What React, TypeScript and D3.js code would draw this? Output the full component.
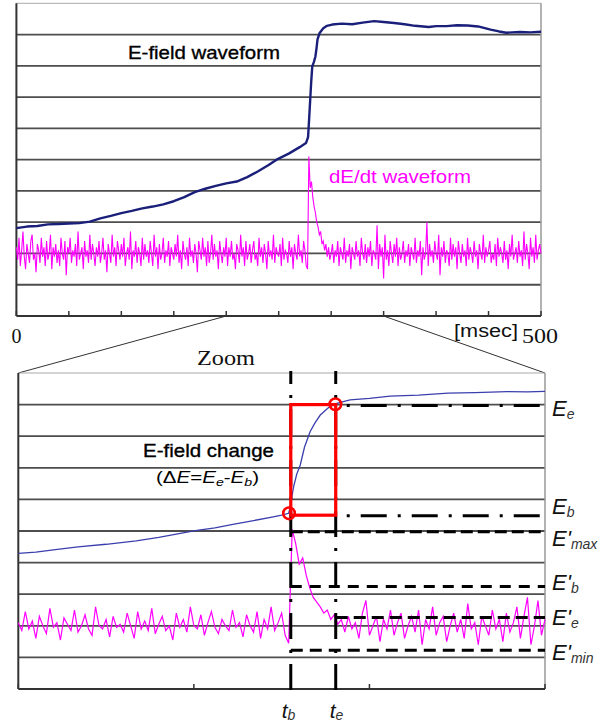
import React from "react";
import * as d3 from "d3";

// ---------- data ----------
const topTicks = [0, 50, 100, 150, 200, 250, 300, 350, 400, 450, 500];
const bottomTicks = [200, 250, 300, 350];
const gridLevels = [1, 2, 3, 4, 5, 6, 7, 8, 9];
const zoomWindow = [200, 350];

// E-field waveform (top, 0-500 ms)
const topEfieldT = [0, 10, 20, 30, 40, 50, 60, 70, 80, 90, 100, 110, 120, 130, 140, 150, 160, 170, 180, 190, 200, 210, 220, 230, 240, 248, 260, 270, 276, 278, 279, 280, 281, 282, 283.5, 285, 286, 287, 289, 292.5, 296, 301, 310, 320, 330, 341, 350, 360, 370, 380, 393, 400, 410, 420, 430, 440, 452, 460, 467, 480, 490, 500];
const topEfieldV = [2.81, 2.86, 2.88, 2.93, 2.94, 2.96, 2.97, 3.02, 3.12, 3.2, 3.29, 3.36, 3.44, 3.5, 3.57, 3.67, 3.8, 3.96, 4.07, 4.16, 4.24, 4.3, 4.44, 4.62, 4.82, 5.0, 5.2, 5.4, 5.53, 5.72, 6.3, 6.9, 7.5, 7.98, 8.12, 8.3, 8.55, 8.85, 9.05, 9.2, 9.28, 9.32, 9.35, 9.33, 9.38, 9.43, 9.4, 9.37, 9.33, 9.28, 9.24, 9.27, 9.27, 9.3, 9.29, 9.26, 9.16, 9.1, 9.06, 9.08, 9.07, 9.09];

// dE/dt waveform (top), one sample every 1.25 ms from 0 ms
const topDeDtStep = 1.25;
const topDeDt = [
  2.2, 1.8, 2.5, 1.6, 2.1, 2.7, 1.9, 1.5, 2.3, 2.0, 1.7, 2.4, 2.6, 1.8, 2.0, 1.4, 2.3, 2.1, 1.7, 2.5,
  1.9, 2.2, 1.6, 2.4, 1.8, 2.0, 2.6, 1.5, 2.2, 1.9, 2.3, 1.7, 2.1, 1.6, 2.5, 2.0, 1.8, 2.4, 1.3, 2.2,
  2.0, 2.5, 1.7, 2.1, 1.9, 2.3, 1.6, 2.7, 1.8, 2.0, 2.2, 1.5, 2.4, 1.9, 2.1, 1.7, 2.6, 1.8, 2.3, 2.0,
  1.6, 2.2, 1.9, 2.4, 1.7, 2.0, 2.5, 1.8, 2.1, 1.4, 2.3, 2.0, 1.7, 2.6, 1.9, 2.2, 1.6, 2.4, 2.1, 1.8,
  2.3, 1.9, 2.5, 1.6, 2.0, 2.2, 1.8, 2.7, 1.5, 2.1, 1.9, 2.4, 1.7, 2.2, 2.0, 1.6, 2.5, 1.8, 2.3, 1.9,
  2.1, 1.7, 2.4, 2.0, 1.6, 2.6, 1.9, 2.2, 1.5, 2.3, 1.8, 2.0, 2.5, 1.7, 2.1, 1.9, 2.4, 1.6, 2.2, 2.0,
  1.8, 2.3, 1.9, 2.6, 1.7, 2.1, 1.5, 2.4, 2.0, 1.8, 2.2, 1.6, 2.5, 1.9, 2.1, 1.7, 2.3, 2.0, 1.4, 2.4,
  2.1, 1.8, 2.5, 1.9, 2.2, 1.6, 2.4, 1.7, 2.0, 2.6, 1.8, 2.3, 1.9, 2.1, 1.5, 2.4, 2.0, 1.7, 2.2, 1.9,
  2.5, 1.6, 2.2, 1.9, 2.4, 1.8, 2.0, 1.5, 2.3, 2.1, 1.7, 2.6, 1.9, 2.2, 1.6, 2.4, 1.8, 2.0, 2.3, 1.7,
  2.1, 2.4, 1.8, 2.0, 1.6, 2.5, 1.9, 2.2, 1.7, 2.3, 2.0, 1.5, 2.4, 1.9, 2.1, 1.8, 2.6, 1.7, 2.2, 2.0,
  1.9, 2.3, 1.6, 2.5, 1.8, 2.1, 2.0, 1.7, 2.4, 1.9, 2.2, 1.5, 2.3, 2.0, 1.8, 2.6, 1.9, 2.1, 1.7, 2.4,
  2.1, 1.6, 1.5, 5.1, 4.1, 4.3, 3.8, 3.5, 3.3, 3.0, 2.85, 2.6, 2.7, 2.3, 2.4, 2.1, 2.3, 1.9, 2.2, 1.8,
  2.0, 2.3, 1.7, 2.1, 1.9, 2.4, 1.6, 2.2, 2.0, 1.8, 2.5, 1.7, 2.1, 1.9, 2.3, 1.5, 2.2, 2.0, 1.8, 2.4,
  1.9, 2.1, 1.6, 2.5, 2.0, 1.8, 2.3, 1.7, 2.2, 1.9, 2.4, 1.6, 2.1, 2.0, 1.8, 2.9, 1.5, 2.3, 1.9, 2.2,
  1.2, 2.6, 1.8, 2.1, 1.6, 2.4, 2.0, 1.7, 2.3, 1.9, 2.5, 1.6, 2.2, 1.8, 2.0, 2.4, 1.7, 2.1, 1.9, 2.3,
  1.6, 2.2, 2.0, 1.8, 2.5, 1.7, 2.1, 1.9, 2.4, 1.3, 2.2, 1.8, 2.0, 3.0, 1.6, 2.3, 1.9, 2.1, 1.7, 2.4,
  2.0, 1.8, 2.6, 1.3, 2.2, 1.9, 2.4, 1.7, 2.1, 2.0, 1.6, 2.5, 1.8, 2.3, 1.9, 2.2, 1.5, 2.4, 2.0, 1.7,
  2.3, 1.9, 2.1, 1.6, 2.5, 1.8, 2.2, 2.0, 1.7, 2.4, 1.9, 2.1, 1.5, 2.3, 2.0, 1.8, 2.6, 1.7, 2.2, 1.9,
  2.1, 2.4, 1.7, 2.0, 1.8, 2.3, 1.6, 2.5, 1.9, 2.2, 2.0, 1.7, 2.4, 1.8, 2.1, 1.5, 2.3, 1.9, 2.6, 1.8,
  2.0, 2.2, 1.7, 2.4, 1.9, 2.1, 1.6, 2.7, 1.8, 2.3, 2.0, 1.5, 2.5, 1.9, 2.2, 1.7, 2.6, 1.8, 2.1, 2.3,
  2.0,
];

// E-field waveform (zoom, 200-350 ms)
const zoomEfieldT = [200, 205, 210, 217, 225, 233.6, 240, 245, 250.4, 256, 261.5, 267, 272.6, 275, 277, 277.5, 278.4, 279.3, 280.3, 281.5, 283.1, 284.5, 286, 288.3, 290.2, 292, 294.5, 300, 305.9, 314, 322.4, 330, 339.2, 345, 350];
const zoomEfieldV = [4.29, 4.33, 4.4, 4.5, 4.58, 4.69, 4.8, 4.9, 5.01, 5.1, 5.22, 5.33, 5.45, 5.5, 5.56, 5.8, 6.4, 6.8, 7.09, 7.65, 8.14, 8.42, 8.67, 8.9, 9.02, 9.08, 9.15, 9.2, 9.27, 9.3, 9.36, 9.38, 9.41, 9.4, 9.42];

// dE/dt waveform (zoom), one sample every 1 ms from 200 ms
const zoomDeDtStart = 200;
const zoomDeDtStep = 1;
const zoomDeDt = [
  2.1, 1.85, 2.45, 1.9, 2.15, 1.6, 2.3, 2.0, 1.75, 2.55, 1.95, 2.1, 1.55, 2.25, 2.05, 1.85, 2.5, 1.8, 2.0, 2.35,
  1.9, 1.7, 2.6, 2.0, 1.9, 2.2, 1.65, 2.3, 1.95, 2.05, 1.8, 2.4, 2.0, 1.6, 2.45, 1.9, 2.15, 1.85, 2.55, 1.75,
  2.05, 2.3, 1.85, 2.0, 1.55, 2.4, 1.95, 2.2, 1.8, 2.6, 2.0, 1.9, 2.35, 1.7, 2.1, 2.45, 1.95, 1.75, 2.2, 2.0,
  1.85, 2.5, 1.95, 2.1, 1.65, 2.35, 2.0, 1.8, 2.45, 1.6, 2.2, 1.9, 2.6, 1.85, 2.1, 2.4,
  1.7, 1.45, 5.05, 4.6, 3.95, 4.15, 3.6, 3.2, 2.9, 2.75, 2.6, 2.4, 2.5, 2.2, 2.35, 2.05, 2.2,
  1.8, 2.3, 1.9, 2.1, 1.6, 2.4, 2.8, 1.7, 2.0, 2.3, 1.5, 2.2, 1.9, 2.5, 1.7, 2.1, 2.4, 1.6, 2.0, 2.3,
  1.8, 2.5, 1.4, 2.2, 1.9, 2.6, 1.7, 2.1, 2.3, 1.5, 2.0, 2.4, 1.8, 2.2, 1.6, 2.7, 1.9, 2.1, 1.4, 2.3,
  2.0, 1.7, 2.5, 1.9, 2.2, 1.5, 2.4, 1.8, 2.1, 2.6, 1.6, 2.3, 2.9, 1.4, 2.0, 2.8, 1.7, 2.2,
];

// markers
const tB = 277.6;
const tE = 290.4;
const levelEe = 9.0;
const levelEb = 5.5;
const levelEpMax = 4.98;
const levelEpB = 3.24;
const levelEpE = 2.26;
const levelEpMin = 1.23;
const circlePts = [
  { t: 277.1, v: 5.56 },
  { t: 290.3, v: 9.01 },
];

const SANS = "'Liberation Sans', Arial, sans-serif";
const SERIF = "'Liberation Serif', 'Times New Roman', serif";

export default function App() {
  const W = 608;
  const H = 724;
  const xT = d3.scaleLinear().domain([0, 500]).range([16.4, 541]);
  const yT = d3.scaleLinear().domain([0, 10]).range([316, 3.3]);
  const xB = d3.scaleLinear().domain([200, 350]).range([18.3, 545]);
  const yB = d3.scaleLinear().domain([0, 10]).range([689, 373]);

  const lineT = d3
    .line<[number, number]>()
    .x((d) => xT(d[0]))
    .y((d) => yT(d[1]));
  const lineB = d3
    .line<[number, number]>()
    .x((d) => xB(d[0]))
    .y((d) => yB(d[1]));

  const topE = topEfieldT.map((t, i) => [t, topEfieldV[i]] as [number, number]);
  const topD = topDeDt.map((v, i) => [i * topDeDtStep, v] as [number, number]);
  const zoomE = zoomEfieldT.map((t, i) => [t, zoomEfieldV[i]] as [number, number]);
  const zoomD = zoomDeDt.map((v, i) => [zoomDeDtStart + i * zoomDeDtStep, v] as [number, number]);

  const gridColor = "#4d4d4d";
  const xRightB = xB(350);

  const hLine = (y: number, x1: number, dash: string, key: string) => (
    <line key={key} x1={x1} x2={xRightB} y1={y} y2={y} stroke="#000" strokeWidth={3} strokeDasharray={dash} />
  );

  const labelE = (main: string, sub: string, y: number, key: string) => (
    <text key={key} x={552} y={y} fontFamily={SANS} fontStyle="italic" fontSize={22} fill="#111">
      {main}
      <tspan fontSize={14} dy={3} fill="#333">
        {sub}
      </tspan>
    </text>
  );

  return (
    <svg
      width={W}
      height={H}
      viewBox={`0 0 ${W} ${H}`}
      style={{ position: "absolute", left: 0, top: 0, display: "block", background: "#fff" }}
    >
      <rect x={0} y={0} width={W} height={H} fill="#fff" />

      {/* ---------------- TOP PANEL ---------------- */}
      {gridLevels.map((g) => (
        <line key={"gt" + g} x1={xT(0)} x2={xT(500)} y1={yT(g)} y2={yT(g)} stroke={gridColor} strokeWidth={1.8} />
      ))}
      <line x1={xT(0)} x2={xT(500)} y1={yT(10)} y2={yT(10)} stroke="#aaa" strokeWidth={1} />
      <line x1={xT(500)} x2={xT(500)} y1={yT(10)} y2={yT(0)} stroke="#999" strokeWidth={1.5} />
      <line x1={xT(0)} x2={xT(0)} y1={yT(10)} y2={yT(0)} stroke="#333" strokeWidth={2} />
      <line x1={xT(0)} x2={xT(500)} y1={yT(0)} y2={yT(0)} stroke="#333" strokeWidth={2} />
      {topTicks.map((t) => (
        <line key={"tt" + t} x1={xT(t)} x2={xT(t)} y1={yT(0)} y2={yT(0) - 5} stroke="#333" strokeWidth={1.5} />
      ))}

      <path d={lineT(topD) || ""} fill="none" stroke="#ff00ff" strokeWidth={1.1} />
      <path d={lineT(topE) || ""} fill="none" stroke="#1a1f7a" strokeWidth={2.4} strokeLinejoin="round" />

      <text x={128} y={59} fontFamily={SANS} fontSize={18.6} fill="#000" stroke="#000" strokeWidth={0.35} textLength={152} lengthAdjust="spacingAndGlyphs">
        E-field waveform
      </text>
      <text x={329} y={183} fontFamily={SANS} fontSize={18.6} fill="#ff00ff" textLength={142} lengthAdjust="spacingAndGlyphs">
        dE/dt waveform
      </text>

      <text x={xT(0)} y={343} fontFamily={SERIF} fontSize={20} textAnchor="middle" fill="#111">
        {topTicks[0]}
      </text>
      <text x={522} y={343} fontFamily={SERIF} fontSize={21} fill="#111" textLength={36} lengthAdjust="spacingAndGlyphs">
        {topTicks[topTicks.length - 1]}
      </text>
      <text x={454} y={337} fontFamily={SANS} fontSize={18} fill="#111" textLength={64} lengthAdjust="spacingAndGlyphs">
        [msec]
      </text>

      {/* zoom connectors */}
      <line x1={xT(zoomWindow[0])} y1={yT(0)} x2={xB(zoomWindow[0])} y2={yB(10)} stroke="#333" strokeWidth={1} />
      <line x1={xT(zoomWindow[1])} y1={yT(0)} x2={xB(zoomWindow[1])} y2={yB(10)} stroke="#333" strokeWidth={1} />
      <text x={197} y={365} fontFamily={SERIF} fontSize={20} fill="#111" textLength={58} lengthAdjust="spacingAndGlyphs">
        Zoom
      </text>

      {/* ---------------- BOTTOM PANEL ---------------- */}
      {gridLevels.map((g) => (
        <line key={"gb" + g} x1={xB(200)} x2={xB(350)} y1={yB(g)} y2={yB(g)} stroke={gridColor} strokeWidth={1.8} />
      ))}
      <line x1={xB(200)} x2={xB(350)} y1={yB(10)} y2={yB(10)} stroke="#aaa" strokeWidth={1.2} />
      <line x1={xB(350)} x2={xB(350)} y1={yB(10)} y2={yB(0)} stroke="#999" strokeWidth={1.5} />
      <line x1={xB(200)} x2={xB(200)} y1={yB(10)} y2={yB(0)} stroke="#333" strokeWidth={2} />
      <line x1={xB(200)} x2={xB(350)} y1={yB(0)} y2={yB(0)} stroke="#333" strokeWidth={2} />
      {bottomTicks.map((t) => (
        <line key={"bt" + t} x1={xB(t)} x2={xB(t)} y1={yB(0)} y2={yB(0) - 5} stroke="#333" strokeWidth={1.5} />
      ))}

      <path d={lineB(zoomD) || ""} fill="none" stroke="#ff00ff" strokeWidth={1.2} />
      <path d={lineB(zoomE) || ""} fill="none" stroke="#3b3fae" strokeWidth={1.3} />

      {/* vertical tb / te markers */}
      {[tB, tE].map((t) => (
        <line
          key={"v" + t}
          x1={xB(t)}
          x2={xB(t)}
          y1={371}
          y2={690}
          stroke="#000"
          strokeWidth={3}
          strokeDasharray="26 11 3 11"
          strokeDashoffset={13}
        />
      ))}

      {/* level lines */}
      {hLine(yB(levelEe) + 1, xB(tE) + 11, "3 11 26 11", "ee")}
      {hLine(yB(levelEb) + 0.5, xB(tE) + 11, "3 11 26 11", "eb")}
      {hLine(yB(levelEpMax), xB(tB), "12 5", "epmax")}
      {hLine(yB(levelEpB), xB(tB), "11 8", "epb")}
      {hLine(yB(levelEpE), xB(tE), "12 6", "epe")}
      {hLine(yB(levelEpMin), xB(tB), "12 7", "epmin")}

      {/* red box and circles */}
      <rect
        x={xB(tB)}
        y={yB(levelEe)}
        width={xB(tE) - xB(tB)}
        height={yB(levelEb) - yB(levelEe)}
        fill="none"
        stroke="#ff0000"
        strokeWidth={3.2}
      />
      {circlePts.map((c, i) => (
        <circle key={"c" + i} cx={xB(c.t)} cy={yB(c.v)} r={5.8} fill="none" stroke="#ff0000" strokeWidth={2.6} />
      ))}

      <text x={143} y={457} fontFamily={SANS} fontSize={18.6} fill="#000" stroke="#000" strokeWidth={0.35} textLength={131} lengthAdjust="spacingAndGlyphs">
        E-field change
      </text>
      <text x={156} y={483} fontFamily={SANS} fontSize={16} fill="#000" textLength={103} lengthAdjust="spacingAndGlyphs">
        (Δ<tspan fontStyle="italic">E</tspan>=<tspan fontStyle="italic">E</tspan>
        <tspan fontStyle="italic" fontSize={11} dy={3}>e</tspan>
        <tspan dy={-3}>-</tspan>
        <tspan fontStyle="italic">E</tspan>
        <tspan fontStyle="italic" fontSize={11} dy={3}>b</tspan>
        <tspan dy={-3}>)</tspan>
      </text>

      {/* right labels */}
      {labelE("E", "e", 416, "le")}
      {labelE("E", "b", 514, "lb")}
      {labelE("E'", "max", 546, "lpmax")}
      {labelE("E'", "b", 590, "lpb")}
      {labelE("E'", "e", 625, "lpe")}
      {labelE("E'", "min", 660, "lpmin")}

      {/* tb / te labels */}
      <text x={xB(tB) - 9} y={718} fontFamily={SANS} fontStyle="italic" fontSize={21} fill="#111">
        t<tspan fontSize={14} dy={2} fill="#333">b</tspan>
      </text>
      <text x={xB(tE) - 6} y={718} fontFamily={SANS} fontStyle="italic" fontSize={21} fill="#111">
        t<tspan fontSize={14} dy={2} fill="#333">e</tspan>
      </text>
    </svg>
  );
}
